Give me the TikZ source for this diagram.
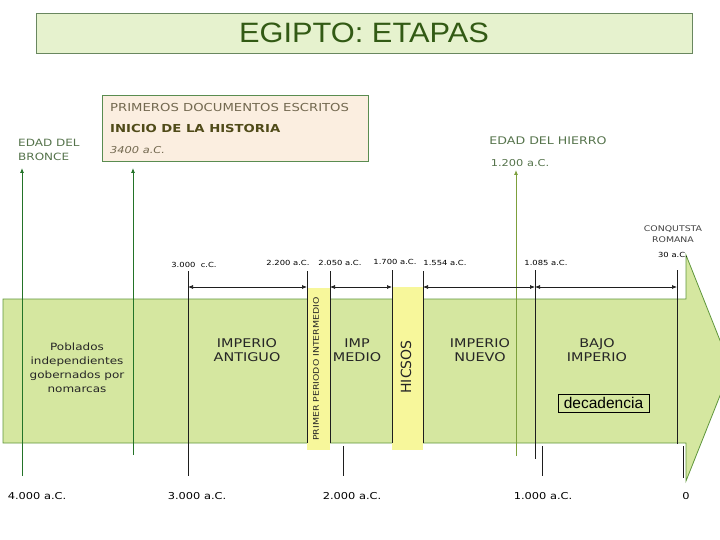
\documentclass[tikz,border=0pt]{standalone}
\usepackage{fontspec}
\setmainfont{Liberation Sans}
\newfontfamily\titlefont[FakeStretch=1.1]{Liberation Sans}
\newfontfamily\comic[FakeStretch=1.2]{DejaVu Sans}
\newfontfamily\comicn{DejaVu Sans}
\usetikzlibrary{arrows.meta}
\definecolor{bandfill}{RGB}{213,231,160}
\definecolor{bandline}{RGB}{95,150,60}
\definecolor{titlefill}{RGB}{230,242,206}
\definecolor{titleline}{RGB}{105,135,95}
\definecolor{titletext}{RGB}{50,90,20}
\definecolor{peach}{RGB}{251,238,224}
\definecolor{peachline}{RGB}{90,140,80}
\definecolor{grtext}{RGB}{85,115,75}
\definecolor{darkgreen}{RGB}{35,115,40}
\definecolor{olive}{RGB}{125,160,60}
\definecolor{hicsos}{RGB}{247,247,155}
\definecolor{tickc}{RGB}{30,30,30}
\definecolor{boxtext}{RGB}{115,105,80}
\definecolor{boxbold}{RGB}{80,75,25}
\begin{document}
\begin{tikzpicture}[x=1pt,y=-1pt,
  lbl/.style={inner sep=0, font=\comic\fontsize{7}{8}\selectfont},
  bandtxt/.style={inner sep=0, align=center, font=\comic\fontsize{12}{14}\selectfont, text=black!85},
  bottomlbl/.style={inner sep=0, font=\comic\fontsize{9.5}{10}\selectfont},
  tickline/.style={draw=tickc, line width=0.8},
  garrow/.style={draw=darkgreen, line width=0.8, -{Latex[length=5pt,width=4pt]}},
  oarrow/.style={draw=olive, line width=0.8, -{Latex[length=5pt,width=4pt]}},
  dim/.style={draw=tickc, line width=0.7, {Latex[length=5pt,width=4pt]}-{Latex[length=5pt,width=4pt]}},
  greentxt/.style={inner sep=0, text=grtext, align=left, font=\comic\fontsize{10}{14}\selectfont}
]
\useasboundingbox (0,0) rectangle (720,540);

% title
\node[draw=titleline, fill=titlefill, minimum width=656, minimum height=40, inner sep=0,
  text=titletext, font=\titlefont\fontsize{28}{28}\selectfont, line width=0.8] (title) at (364,33) {EGIPTO: ETAPAS};

% documents box
\node[draw=peachline, fill=peach, minimum width=266, minimum height=66, inner sep=0,
  anchor=north west, line width=0.8] (doc) at (102,95) {};
\node[anchor=west, inner sep=0, text=boxtext, font=\comic\fontsize{11}{12}\selectfont] (doc1) at (110,107) {PRIMEROS DOCUMENTOS ESCRITOS};
\node[anchor=west, inner sep=0, text=boxbold, font=\comic\bfseries\fontsize{11}{12}\selectfont] (doc2) at (110,128) {INICIO DE LA HISTORIA};
\node[anchor=west, inner sep=0, text=boxtext, font=\comic\itshape\fontsize{9.5}{10}\selectfont] (doc3) at (110,150) {3400 a.C.};

% band arrow
\draw[bandline, fill=bandfill, line width=0.8] (3,299) -- (686,299) -- (686,255) -- (731,368)
  -- (686,481) -- (686,443) -- (3,443) -- cycle;

% yellow bands
\fill[hicsos] (307,288) rectangle (330,450);
\fill[hicsos] (392,287) rectangle (423,450);

% upper labels
\node[greentxt, anchor=north west] (bronce) at (18,139) {EDAD DEL\\BRONCE};
\node[inner sep=0, text=grtext, font=\comic\fontsize{10.5}{12}\selectfont] (hierro) at (548,141) {EDAD DEL HIERRO};
\node[inner sep=0, text=grtext, font=\comic\fontsize{9.5}{10}\selectfont] (h1200) at (520,163) {1.200 a.C.};
\node[inner sep=0, align=center, text=black!75, font=\comic\fontsize{7.8}{11}\selectfont] (conq) at (673,234) {CONQUTSTA\\ROMANA};
\node[lbl] (l30) at (673,255) {30 a.C.};
\node[lbl] (l3000) at (194,265) {3.000 \ c.C.};
\node[lbl] (l2200) at (288,263) {2.200 a.C.};
\node[lbl] (l2050) at (340,263) {2.050 a.C.};
\node[lbl] (l1700) at (395,262) {1.700 a.C.};
\node[lbl] (l1554) at (445,263) {1.554 a.C.};
\node[lbl] (l1085) at (546,263) {1.085 a.C.};

% green arrows
\coordinate (g1b) at (22,476); \coordinate (g1t) at (22,168);
\coordinate (g2b) at (133,455); \coordinate (g2t) at (133,168);
\coordinate (g3b) at (516,456); \coordinate (g3t) at (516,170);
\draw[garrow] (g1b) -- (g1t);
\draw[garrow] (g2b) -- (g2t);
\draw[oarrow] (g3b) -- (g3t);

% tick lines
\coordinate (t188a) at (188,271); \coordinate (t188b) at (188,476);
\coordinate (t307a) at (307,271); \coordinate (t307b) at (307,443);
\coordinate (t330a) at (330,271); \coordinate (t330b) at (330,443);
\coordinate (t392a) at (392,270); \coordinate (t392b) at (392,443);
\coordinate (t423a) at (423,271); \coordinate (t423b) at (423,443);
\coordinate (t535a) at (535,270); \coordinate (t535b) at (535,459);
\coordinate (t677a) at (677,270); \coordinate (t677b) at (677,444);
\draw[tickline] (t188a) -- (t188b);
\draw[tickline] (t307a) -- (t307b);
\draw[tickline] (t330a) -- (t330b);
\draw[tickline] (t392a) -- (t392b);
\draw[tickline] (t423a) -- (t423b);
\draw[tickline] (t535a) -- (t535b);
\draw[tickline] (t677a) -- (t677b);

% bottom ticks
\coordinate (b343a) at (343,446); \coordinate (b343b) at (343,476);
\coordinate (b542a) at (542,446); \coordinate (b542b) at (542,476);
\coordinate (b683a) at (683,446); \coordinate (b683b) at (683,478);
\draw[tickline] (b343a) -- (b343b);
\draw[tickline] (b542a) -- (b542b);
\draw[tickline] (b683a) -- (b683b);

% dimension arrows
\coordinate (d1) at (188,287); \coordinate (d2) at (307,287);
\coordinate (d3) at (330,287); \coordinate (d4) at (392,287);
\coordinate (d5) at (423,287); \coordinate (d6) at (535,287);
\coordinate (d7) at (677,287);
\draw[dim] (d1) -- (d2);
\draw[dim] (d3) -- (d4);
\draw[dim] (d5) -- (d6);
\draw[dim] (d6) -- (d7);

% band texts
\node[bandtxt, font=\comic\fontsize{10}{14}\selectfont] (pob) at (77,368) {Poblados\\independientes\\gobernados por\\nomarcas};
\node[bandtxt] (ant) at (247,350) {IMPERIO\\ANTIGUO};
\node[bandtxt] (med) at (357,350) {IMP\\MEDIO};
\node[bandtxt] (nue) at (480,350) {IMPERIO\\NUEVO};
\node[bandtxt] (baj) at (597,350) {BAJO\\IMPERIO};
\node[inner sep=0, rotate=90, text=black!85, font=\comic\fontsize{7.8}{8}\selectfont] (ppi) at (316,369) {PRIMER PERIODO INTERMEDIO};
\node[inner sep=0, rotate=90, text=black!85, font=\comicn\fontsize{14}{14}\selectfont] (hic) at (406,367) {HICSOS};
\node[draw=black, line width=0.8, minimum width=91, minimum height=18, inner sep=0,
  font=\fontsize{15.5}{16}\selectfont] (dec) at (603.5,403) {decadencia};

% bottom labels
\node[bottomlbl] (y4000) at (37,496) {4.000 a.C.};
\node[bottomlbl] (y3000) at (197,496) {3.000 a.C.};
\node[bottomlbl] (y2000) at (352,496) {2.000 a.C.};
\node[bottomlbl] (y1000) at (543,496) {1.000 a.C.};
\node[bottomlbl] (y0) at (686,496) {0};
\end{tikzpicture}
\end{document}
